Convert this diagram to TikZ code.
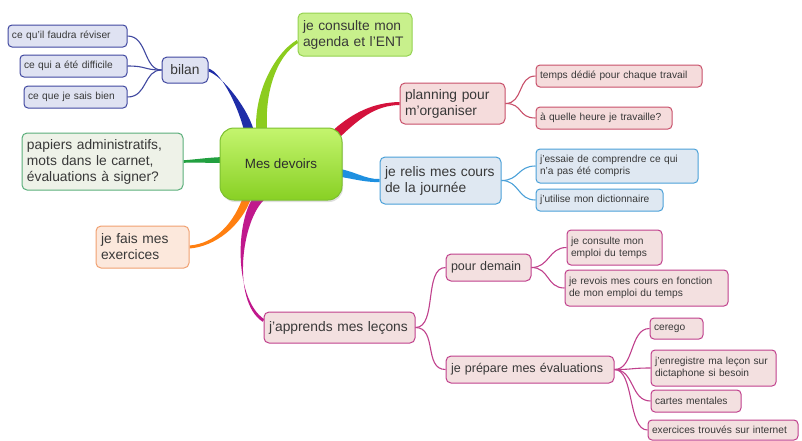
\documentclass[tikz,border=0pt]{standalone}
\usepackage{fontspec}
\setmainfont{Liberation Sans}
\usetikzlibrary{calc,backgrounds,shadows}
\definecolor{txt}{HTML}{383838}
\definecolor{nvD}{HTML}{4048A0}\definecolor{nvF}{HTML}{DFE2F2}\definecolor{nvB}{HTML}{1F2DA8}
\definecolor{agD}{HTML}{94D250}\definecolor{agF}{HTML}{C8F08C}\definecolor{agB}{HTML}{8CCC1E}
\definecolor{crD}{HTML}{C8506A}\definecolor{crF}{HTML}{F5DCDC}\definecolor{crB}{HTML}{D4123C}
\definecolor{blD}{HTML}{4AA0D8}\definecolor{blF}{HTML}{DFE8F2}\definecolor{blB}{HTML}{1E90E0}
\definecolor{gnD}{HTML}{5AAE7A}\definecolor{gnF}{HTML}{EEF2E8}\definecolor{gnB}{HTML}{22A040}
\definecolor{orD}{HTML}{F0A070}\definecolor{orF}{HTML}{FCE8DC}\definecolor{orB}{HTML}{FF7F10}
\definecolor{mgD}{HTML}{C0408C}\definecolor{mgF}{HTML}{F3E0E0}\definecolor{mgB}{HTML}{C0188C}
\definecolor{mdT}{HTML}{C4F56E}\definecolor{mdB}{HTML}{88D024}\definecolor{mdD}{HTML}{7CC030}
\newcommand\taper[7]{\fill[#1] ($(#2)+#6$) .. controls ($#3+#6$) and ($#4+#7$) .. ($(#5)+#7$) -- ($(#5)-#7$) .. controls ($#4-#7$) and ($#3-#6$) .. ($(#2)-#6$) -- cycle;}
\tikzset{
  base/.style={rounded corners=4pt, line width=1pt, text=txt, align=left, inner xsep=5pt, inner ysep=2pt},
  leaf/.style={base, inner xsep=4pt, font=\fontsize{10.2}{12}\selectfont},
  mainbox/.style={base, rounded corners=5pt, font=\fontsize{13.8}{16}\selectfont, inner xsep=5pt},
  navyb/.style={draw=nvD, fill=nvF},
  agb/.style={draw=agD, fill=agF},
  crb/.style={draw=crD, fill=crF},
  blb/.style={draw=blD, fill=blF},
  gnb/.style={draw=gnD, fill=gnF},
  orb/.style={draw=orD, fill=orF},
  mgb/.style={draw=mgD, fill=mgF},
  sub/.style={line width=1.1pt},
}
\begin{document}
\begin{tikzpicture}[x=1pt,y=-1pt]
\useasboundingbox (0,0) rectangle (802,440);
% center
\node[rounded corners=14pt, draw=mdD, line width=1pt, top color=mdT, bottom color=mdB, drop shadow={opacity=0.25,shadow xshift=1pt,shadow yshift=-2pt},
  minimum width=122pt, minimum height=72pt, text=txt!80!black, font=\fontsize{13.4}{16}\selectfont] (md) at (281,164) {Mes devoirs};
% bilan
\node[mainbox,navyb,minimum width=46pt,minimum height=26pt,align=center,inner xsep=2pt] (bilan) at (185,70) {bilan};
\node[leaf,navyb,text width=111pt,minimum height=22pt] (l1) at (67.5,36) {ce qu'il faudra réviser};
\node[leaf,navyb,text width=99pt,minimum height=22pt] (l2) at (73.5,66) {ce qui a été difficile};
\node[leaf,navyb,text width=95pt,minimum height=22pt] (l3) at (75.5,97) {ce que je sais bien};
% agenda
\node[mainbox,agb,text width=104pt,minimum height=43pt] (agenda) at (355,34.5) {je consulte mon\\agenda et l'ENT};
% planning
\node[mainbox,crb,text width=95pt,minimum height=41pt] (planning) at (452.5,103.5) {planning pour\\m'organiser};
\node[leaf,crb,text width=158pt,minimum height=22pt] (p1) at (619,76) {temps dédié pour chaque travail};
\node[leaf,crb,text width=128pt,minimum height=22pt] (p2) at (604,118) {à quelle heure je travaille?};
% relis
\node[mainbox,blb,text width=111pt,minimum height=47pt] (relis) at (440.5,180.5) {je relis mes cours\\de la journée};
\node[leaf,blb,text width=154pt,minimum height=34pt] (r1) at (617,166) {j'essaie de comprendre ce qui\\n'a pas été compris};
\node[leaf,blb,text width=119pt,minimum height=22pt] (r2) at (599.5,200) {j'utilise mon dictionnaire};
% papiers
\node[mainbox,gnb,text width=151pt,minimum height=57pt] (papiers) at (102.5,161.5) {papiers administratifs,\\mots dans le carnet,\\évaluations à signer?};
% exercices
\node[mainbox,orb,text width=83pt,minimum height=42pt] (exo) at (142.5,247) {je fais mes\\exercices};
% apprends
\node[mainbox,mgb,text width=141pt,minimum height=31pt] (apprends) at (339.5,327.5) {j'apprends mes leçons};
\node[mainbox,mgb,text width=75pt,minimum height=27pt,font=\fontsize{12.5}{15}\selectfont] (demain) at (488.5,267.5) {pour demain};
\node[leaf,mgb,text width=87pt,minimum height=35pt] (d1) at (614.5,247.5) {je consulte mon\\emploi du temps};
\node[leaf,mgb,text width=155pt,minimum height=36pt] (d2) at (646.5,288) {je revois mes cours en fonction\\de mon emploi du temps};
\node[mainbox,mgb,text width=158pt,minimum height=27pt,font=\fontsize{12.5}{15}\selectfont] (prepare) at (530,369.5) {je prépare mes évaluations};
\node[leaf,mgb,text width=45pt,minimum height=21pt] (e1) at (676.5,328.5) {cerego};
\node[leaf,mgb,text width=117pt,minimum height=36pt] (e2) at (713.5,368) {j'enregistre ma leçon sur\\dictaphone si besoin};
\node[leaf,mgb,text width=82pt,minimum height=22pt] (e3) at (696,401) {cartes mentales};
\node[leaf,mgb,text width=142pt,minimum height=20pt] (e4) at (723,430) {exercices trouvés sur internet};

\begin{pgfonlayer}{background}
% main tapered branches
\coordinate (s1) at ($(md.center)+(-31,-29)$);
\coordinate (s2) at ($(md.center)+(-19,-29)$);
\coordinate (s3) at ($(md.center)+(49,-24)$);
\coordinate (s4) at ($(md.center)+(54,8)$);
\coordinate (s5) at ($(md.center)+(-53,-4)$);
\coordinate (s6) at ($(md.center)+(-33,31)$);
\coordinate (s7) at ($(md.center)+(-19,31)$);
\coordinate (t2) at ($(agenda.west)+(0,7)$);
\coordinate (t7) at ($(apprends.west)+(0,-7)$);
\taper{nvB}{s1}{(245,110)}{(222,74)}{bilan.east}{(5,0)}{(0,1.5)}
\taper{agB}{s2}{(258,95)}{(275,55)}{t2}{(5.5,0)}{(0.8,1.4)}
\taper{crB}{s3}{(355,115)}{(375,104)}{planning.west}{(3.5,3.5)}{(0,1.5)}
\taper{blB}{s4}{(355,175)}{(365,181)}{relis.west}{(0,4)}{(0,1.5)}
\taper{gnB}{s5}{(210,160)}{(195,161)}{papiers.east}{(0,3)}{(0,1.3)}
\taper{orB}{s6}{(238,225)}{(215,245)}{exo.east}{(3.8,1.3)}{(0,1.5)}
\taper{mgB}{s7}{(238,215)}{(232,300)}{t7}{(3.4,3.7)}{(-0.8,1.3)}
\end{pgfonlayer}

% sub connectors
\foreach \n in {l1,l2,l3} \draw[sub,nvD] (bilan.west) .. controls +(-18,0) and +(20,0) .. (\n.east);
\foreach \n in {p1,p2} \draw[sub,crD] (planning.east) .. controls +(18,0) and +(-18,0) .. (\n.west);
\foreach \n in {r1,r2} \draw[sub,blD] (relis.east) .. controls +(18,0) and +(-18,0) .. (\n.west);
\foreach \n in {demain,prepare} \draw[sub,mgD] (apprends.east) .. controls +(22,0) and +(-22,0) .. (\n.west);
\foreach \n in {d1,d2} \draw[sub,mgD] (demain.east) .. controls +(18,0) and +(-18,0) .. (\n.west);
\foreach \n in {e1,e2,e3,e4} \draw[sub,mgD] (prepare.east) .. controls +(20,0) and +(-20,0) .. (\n.west);
\end{tikzpicture}
\end{document}
